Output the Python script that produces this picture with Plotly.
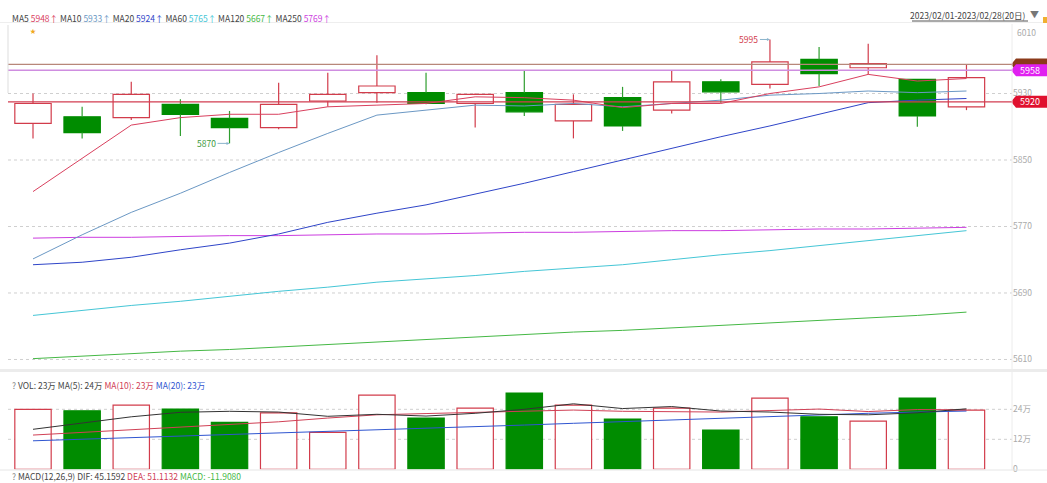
import plotly.graph_objects as go

# ---------------- data ----------------
dates = ["2023-02-01", "2023-02-02", "2023-02-03", "2023-02-06", "2023-02-07",
         "2023-02-08", "2023-02-09", "2023-02-10", "2023-02-13", "2023-02-14",
         "2023-02-15", "2023-02-16", "2023-02-17", "2023-02-20", "2023-02-21",
         "2023-02-22", "2023-02-23", "2023-02-24", "2023-02-27", "2023-02-28"]
opens = [5894, 5902, 5901, 5917, 5900, 5889, 5921, 5931, 5931, 5918,
         5931, 5897, 5925, 5910, 5944, 5941, 5971, 5961, 5947, 5914]
highs = [5930, 5914, 5944, 5923, 5909, 5943, 5955, 5976, 5955, 5930,
         5958, 5929, 5938, 5957, 5947, 5995, 5986, 5990, 5947, 5965]
lows = [5876, 5876, 5898, 5879, 5870, 5887, 5914, 5919, 5917, 5889,
        5903, 5876, 5885, 5906, 5919, 5936, 5939, 5953, 5890, 5910]
closes = [5918, 5883, 5929, 5905, 5889, 5917, 5929, 5939, 5918, 5929,
          5908, 5917, 5891, 5944, 5932, 5968, 5954, 5966, 5903, 5949]

ma5 = [5812, 5852, 5892, 5901, 5905, 5905, 5914, 5916, 5918, 5926,
       5925, 5922, 5913, 5918, 5918, 5930, 5938, 5953, 5945, 5948]
ma10 = [5731, 5760, 5787, 5810, 5835, 5859, 5882, 5904, 5910, 5916,
        5915, 5918, 5914, 5918, 5922, 5928, 5930, 5933, 5931, 5933]
ma20 = [5724, 5727, 5733, 5742, 5750, 5761, 5775, 5786, 5796, 5809,
        5822, 5836, 5850, 5864, 5878, 5891, 5905, 5919, 5922, 5924]
ma60 = [5663, 5669, 5675, 5680, 5686, 5692, 5697, 5703, 5707, 5711,
        5716, 5720, 5724, 5730, 5736, 5741, 5747, 5753, 5759, 5765]
ma120 = [5611, 5614, 5617, 5620, 5622, 5625, 5628, 5631, 5634, 5637,
         5640, 5643, 5645, 5648, 5651, 5654, 5657, 5660, 5663, 5667]
ma250 = [5756, 5757, 5757, 5758, 5759, 5759, 5760, 5761, 5761, 5762,
         5763, 5763, 5764, 5765, 5765, 5766, 5767, 5767, 5768, 5769]

# volume in 万
vols = [24.0, 23.4, 25.7, 24.1, 18.8, 22.6, 14.8, 29.7, 20.5, 24.5,
        30.5, 25.7, 20.1, 24.5, 15.7, 28.5, 21.0, 19.3, 28.5, 23.7]
vma5 = [16.0, 18.5, 21.0, 22.8, 23.2, 22.9, 21.2, 22.0, 21.3, 22.4,
        24.0, 26.2, 24.3, 25.1, 23.3, 22.9, 22.0, 21.8, 22.6, 24.2]
vma10 = [13.7, 14.8, 15.9, 17.0, 18.0, 19.0, 20.5, 21.8, 22.3, 22.8,
         23.5, 23.7, 23.2, 23.2, 22.9, 23.5, 24.1, 23.1, 23.9, 23.8]
vma20 = [11.4, 12.0, 12.6, 13.2, 13.8, 14.4, 15.0, 15.6, 16.3, 17.0,
         17.7, 18.4, 19.1, 19.8, 20.5, 21.2, 21.8, 22.4, 22.9, 23.3]

price_ticks = [5610, 5690, 5770, 5850, 5930]
price_top_label = "6010"
vol_ticks = [0, 12, 24]
vol_ticktext = ["0", "12万", "24万"]

ref_lines = [(5965, "#b8877a", "#8b3a1a", ""),
             (5958, "#cf8ee0", "#e020f0", "5958"),
             (5920, "#d23c50", "#e0102e", "5920")]

# ---------------- styling ----------------
W, H = 1047, 483
FONT = "Noto Sans CJK SC"
UP = "#d23c4b"
DN_FILL = "#008c00"
DN_LINE = "#2f9e2f"
C_MA5, C_MA10, C_MA20 = "#d9405e", "#6b98c4", "#2f45c8"
C_MA60, C_MA120, C_MA250 = "#45c6d6", "#45b845", "#cc3de0"

def px(xp):
    return xp / W

def py(yp):
    return 1 - yp / H

X0, X1 = 8, 1012
P_TOP, P_BOT = 24, 368
P_RANGE = [5850 - (P_BOT - 160) * 1.2031, 5850 + (160 - P_TOP) * 1.2031]
V_TOP, V_BOT = 385, 469.3
V_RANGE = [0, (V_BOT - V_TOP) / 2.5]
XR = [(X0 - 33) / 49.13, (X1 - 33) / 49.13]

up = [c >= o for o, c in zip(opens, closes)]

fig = go.Figure()

# candle bodies
for is_up in (True, False):
    xs = [d for d, u in zip(dates, up) if u == is_up]
    base = [min(o, c) for o, c, u in zip(opens, closes, up) if u == is_up]
    hgt = [max(abs(c - o), 0.6) for o, c, u in zip(opens, closes, up) if u == is_up]
    fig.add_trace(go.Bar(
        x=xs, y=hgt, base=base, width=0.74, xaxis="x", yaxis="y",
        marker=dict(color="white" if is_up else DN_FILL,
                    line=dict(color=UP if is_up else DN_FILL, width=1.2)),
        hoverinfo="skip"))

# wicks
for is_up in (True, False):
    wx, wy = [], []
    for d, o, h, l, c, u in zip(dates, opens, highs, lows, closes, up):
        if u != is_up:
            continue
        wx += [d, d, None, d, d, None]
        wy += [h, max(o, c), None, min(o, c), l, None]
    fig.add_trace(go.Scatter(x=wx, y=wy, mode="lines", xaxis="x", yaxis="y",
                             line=dict(color=UP if is_up else DN_LINE, width=1.2),
                             hoverinfo="skip"))

# moving averages
for arr, col in [(ma250, C_MA250), (ma120, C_MA120), (ma60, C_MA60),
                 (ma20, C_MA20), (ma10, C_MA10), (ma5, C_MA5)]:
    fig.add_trace(go.Scatter(x=dates, y=arr, mode="lines", xaxis="x", yaxis="y",
                             line=dict(color=col, width=1), hoverinfo="skip"))

# volume bars
for is_up in (True, False):
    xs = [d for d, u in zip(dates, up) if u == is_up]
    vv = [v for v, u in zip(vols, up) if u == is_up]
    fig.add_trace(go.Bar(
        x=xs, y=vv, width=0.74, xaxis="x2", yaxis="y2",
        marker=dict(color="white" if is_up else DN_FILL,
                    line=dict(color=UP if is_up else DN_FILL, width=1.2)),
        hoverinfo="skip"))

for arr, col in [(vma20, "#2f55d0"), (vma10, "#d04055"), (vma5, "#333333")]:
    fig.add_trace(go.Scatter(x=dates, y=arr, mode="lines", xaxis="x2", yaxis="y2",
                             line=dict(color=col, width=1), hoverinfo="skip"))

shapes = []
# grid lines (dotted)
for t in price_ticks:
    shapes.append(dict(type="line", xref="paper", yref="y", x0=px(X0), x1=px(X1),
                       y0=t, y1=t, line=dict(color="#cfcfcf", width=1, dash="dot"),
                       layer="below"))
for t in vol_ticks[1:]:
    shapes.append(dict(type="line", xref="paper", yref="y2", x0=px(X0), x1=px(X1),
                       y0=t, y1=t, line=dict(color="#cfcfcf", width=1, dash="dot"),
                       layer="below"))

# reference horizontal lines and right labels
hh = 6 * 1.2031
for val, lc, bc, t in ref_lines:
    shapes.append(dict(type="line", xref="paper", yref="y", x0=px(X0), x1=px(X1),
                       y0=val, y1=val, line=dict(color=lc, width=1.3)))
for val, lc, bc, t in ref_lines:
    path = (f"M {px(1011)},{val} L {px(1016)},{val + hh} L {px(1047)},{val + hh} "
            f"L {px(1047)},{val - hh} L {px(1016)},{val - hh} Z")
    shapes.append(dict(type="path", xref="paper", yref="y", path=path,
                       fillcolor=bc, line=dict(width=0)))

# frame / separators
shapes += [
    dict(type="line", xref="paper", yref="paper", x0=px(X1), x1=px(X1),
         y0=py(24), y1=py(470), line=dict(color="#ececec", width=1)),
    dict(type="line", xref="paper", yref="paper", x0=0, x1=1,
         y0=py(22.5), y1=py(22.5), line=dict(color="#eeeeee", width=1)),
    dict(type="rect", xref="paper", yref="paper", x0=0, x1=1,
         y0=py(372), y1=py(369), fillcolor="#ececec", line=dict(width=0)),
    dict(type="line", xref="paper", yref="paper", x0=0, x1=1,
         y0=py(470), y1=py(470), line=dict(color="#e6e6e6", width=1)),
    dict(type="line", xref="paper", yref="paper", x0=px(8), x1=px(8),
         y0=py(25), y1=py(93), line=dict(color="#dddddd", width=1)),
    dict(type="line", xref="paper", yref="paper", x0=px(912), x1=px(1028),
         y0=py(21), y1=py(21), line=dict(color="#555555", width=1)),
    dict(type="rect", xref="paper", yref="paper", x0=px(1043), x1=px(1047),
         y0=py(23), y1=py(17), fillcolor="#f0b030", line=dict(width=0)),
]

ann = []
def txt(x, y, text, size=8.5, anchor="left", color="#444"):
    ann.append(dict(xref="paper", yref="paper", x=px(x), y=py(y), text=text,
                    showarrow=False, xanchor=anchor, yanchor="middle",
                    font=dict(family=FONT, size=size, color=color)))

def sp(t, c):
    return f"<span style='color:{c}'>{t}</span>"

txt(10, 18, "MA5 " + sp("5948↑", C_MA5) + " MA10 " + sp("5933↑", C_MA10) +
    " MA20 " + sp("5924↑", C_MA20) + " MA60 " + sp("5765↑", C_MA60) +
    " MA120 " + sp("5667↑", C_MA120) + " MA250 " + sp("5769↑", C_MA250))
txt(33, 30, "★", size=6, anchor="center", color="#f0a820")
txt(1028, 15.5, "2023/02/01-2023/02/28(20日)", anchor="right", color="#444")
txt(1034, 15, "▼", size=9, anchor="center", color="#777")
txt(1015, 32, price_top_label, anchor="left", color="#aaa")
txt(10, 385, sp("?", "#888") + " VOL: 23万 MA(5): 24万 " + sp("MA(10): 23万", "#d04055") +
    " " + sp("MA(20): 23万", "#2f55d0"))
txt(10, 476, sp("?", "#888") + " MACD(12,26,9) DIF: 45.1592 " + sp("DEA: 51.1132", "#d04055") +
    " " + sp("MACD: -11.9080", "#45b845"))

# right price labels text
for val, lc, bc, t in ref_lines:
    if t:
        ann.append(dict(xref="paper", yref="y", x=px(1018), y=val, text=t,
                        showarrow=False, xanchor="left", yanchor="middle",
                        font=dict(family=FONT, size=9, color="white")))

# extreme markers
ann.append(dict(xref="x", yref="y", x=dates[4], y=5870, text="5870",
                showarrow=True, ax=-12, ay=0, xanchor="right",
                arrowhead=2, arrowsize=0.6, arrowwidth=1, arrowcolor="#8ab4cc",
                font=dict(family=FONT, size=8.5, color="#3d9a3d")))
ann.append(dict(xref="x", yref="y", x=dates[15], y=5995, text="5995",
                showarrow=True, ax=-10, ay=0, xanchor="right",
                arrowhead=2, arrowsize=0.6, arrowwidth=1, arrowcolor="#8ab4cc",
                font=dict(family=FONT, size=8.5, color="#d23c4b")))

fig.update_layout(
    width=W, height=H, margin=dict(l=0, r=0, t=0, b=0, autoexpand=False),
    paper_bgcolor="white", plot_bgcolor="white", showlegend=False,
    barmode="overlay", font=dict(family=FONT, size=8.5, color="#999"),
    xaxis=dict(domain=[px(X0), px(X1)], type="category", range=XR,
               categoryorder="array", categoryarray=dates, automargin=False,
               showticklabels=False, showgrid=False, zeroline=False,
               anchor="y"),
    xaxis2=dict(domain=[px(X0), px(X1)], type="category", range=XR,
                categoryorder="array", categoryarray=dates, automargin=False,
                showticklabels=False, showgrid=False, zeroline=False,
                anchor="y2", matches="x"),
    yaxis=dict(domain=[py(P_BOT), py(P_TOP)], range=P_RANGE, side="right",
               tickvals=price_ticks, showgrid=False, zeroline=False, automargin=False,
               tickfont=dict(family=FONT, size=8.5, color="#aaa"), ticks="",
               anchor="x"),
    yaxis2=dict(domain=[py(V_BOT), py(V_TOP)], range=V_RANGE, side="right",
                tickvals=vol_ticks, ticktext=vol_ticktext, showgrid=False,
                zeroline=False, automargin=False,
                tickfont=dict(family=FONT, size=8.5, color="#aaa"),
                ticks="", anchor="x2"),
    shapes=shapes, annotations=ann,
)

post = (
    "document.documentElement.style.margin='0';"
    "document.body.style.margin='0';"
    "document.body.style.overflow='hidden';"
    "document.documentElement.style.overflow='hidden';"
)

fig.write_html("out.html", config={"displayModeBar": False}, post_script=post)
